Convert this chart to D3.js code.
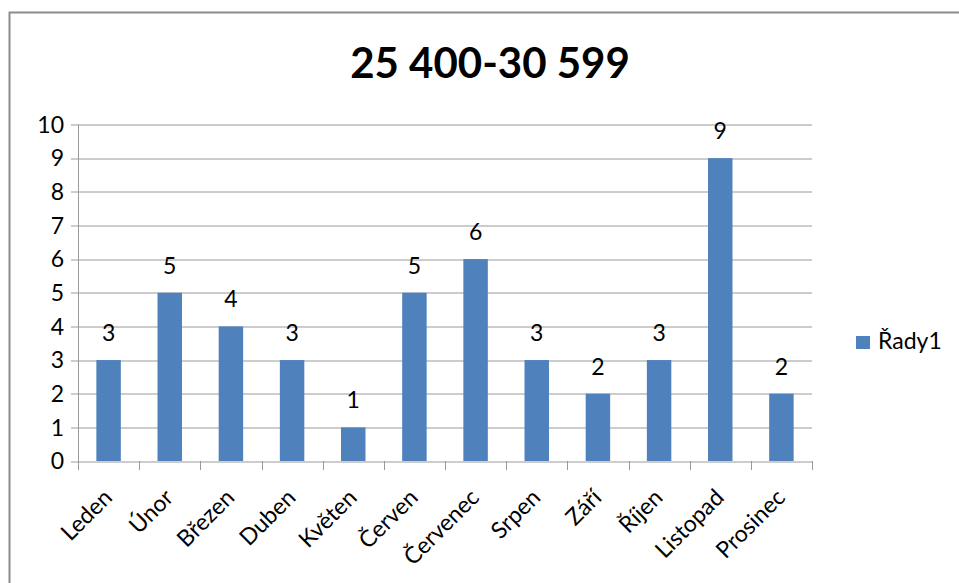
<!DOCTYPE html>
<html>
<head>
<meta charset="utf-8">
<script src="https://cdn.jsdelivr.net/npm/d3@7"></script>
<style>
  body { margin: 0; background: #fff; }
  svg text { font-family: Lato, "Liberation Sans", Arial, sans-serif; fill: #000; }
</style>
</head>
<body>
<div id="chart"></div>
<script>
var months = ["Leden", "Únor", "Březen", "Duben", "Květen", "Červen",
  "Červenec", "Srpen", "Září", "Říjen", "Listopad", "Prosinec"];
var counts = [3, 5, 4, 3, 1, 5, 6, 3, 2, 3, 9, 2];
var yTicks = [0, 1, 2, 3, 4, 5, 6, 7, 8, 9, 10];
var seriesName = "Řady1";
var chartTitle = "25 400-30 599";

var W = 959, H = 583;
var m = { top: 124.5, right: 147, bottom: 122, left: 78 };
var w = W - m.left - m.right,
    h = H - m.top - m.bottom;

var svg = d3.select("#chart").append("svg")
  .attr("width", W)
  .attr("height", H);

// outer frame
svg.append("rect")
  .attr("x", 9.5).attr("y", 12.5)
  .attr("width", 960).attr("height", 600)
  .attr("fill", "none")
  .attr("stroke", "#8c8c8c")
  .attr("stroke-width", 2);

svg.append("text")
  .attr("x", 490).attr("y", 78)
  .attr("text-anchor", "middle")
  .style("font-size", "42px")
  .style("font-weight", "bold")
  .text(chartTitle);

var g = svg.append("g")
  .attr("transform", "translate(" + m.left + "," + m.top + ")");

var x = d3.scaleBand().domain(months).range([0, w]).paddingInner(0.6).paddingOuter(0.3);
var y = d3.scaleLinear().domain([0, 10]).range([h, 0]);

// gridlines
g.selectAll("line.grid")
  .data(yTicks)
  .enter().append("line")
  .attr("class", "grid")
  .attr("x1", -7).attr("x2", w)
  .attr("y1", function(d) { return Math.round(y(d)) + 0.5; })
  .attr("y2", function(d) { return Math.round(y(d)) + 0.5; })
  .attr("stroke", "#9a9a9a")
  .attr("stroke-width", 1);

g.selectAll("text.ytick")
  .data(yTicks)
  .enter().append("text")
  .attr("class", "ytick")
  .attr("x", -14)
  .attr("y", function(d) { return y(d); })
  .attr("dy", "0.36em")
  .attr("text-anchor", "end")
  .style("font-size", "23px")
  .text(function(d) { return d; });

// bars
g.selectAll("rect.bar")
  .data(counts)
  .enter().append("rect")
  .attr("class", "bar")
  .attr("x", function(d, i) { return x(months[i]); })
  .attr("width", x.bandwidth())
  .attr("y", function(d) { return y(d); })
  .attr("height", function(d) { return h - y(d); })
  .attr("fill", "#4f81bd");

g.selectAll("text.val")
  .data(counts)
  .enter().append("text")
  .attr("class", "val")
  .attr("x", function(d, i) { return x(months[i]) + x.bandwidth() / 2; })
  .attr("y", function(d) { return y(d) - 19; })
  .attr("text-anchor", "middle")
  .style("font-size", "23px")
  .text(function(d) { return d; });

// axis lines
g.append("line")
  .attr("x1", 0.5).attr("x2", 0.5)
  .attr("y1", 0).attr("y2", h)
  .attr("stroke", "#9a9a9a");

var bounds = d3.range(months.length + 1).map(function(i) { return i * w / months.length; });
g.selectAll("line.xtick")
  .data(bounds)
  .enter().append("line")
  .attr("class", "xtick")
  .attr("x1", function(d) { return Math.round(d) + 0.5; })
  .attr("x2", function(d) { return Math.round(d) + 0.5; })
  .attr("y1", h).attr("y2", h + 9)
  .attr("stroke", "#9a9a9a");

g.selectAll("text.xlab")
  .data(months)
  .enter().append("text")
  .attr("class", "xlab")
  .attr("transform", function(d) {
    return "translate(" + (x(d) + x.bandwidth() / 2 + 5) + "," + (h + 38) + ") rotate(-45)";
  })
  .attr("text-anchor", "end")
  .style("font-size", "23px")
  .text(function(d) { return d; });

// legend
var lg = svg.append("g").attr("transform", "translate(856,336)");
lg.append("rect").attr("width", 14).attr("height", 13).attr("fill", "#4f81bd");
lg.append("text").attr("x", 22).attr("y", 13).style("font-size", "23px").text(seriesName);
</script>
</body>
</html>
